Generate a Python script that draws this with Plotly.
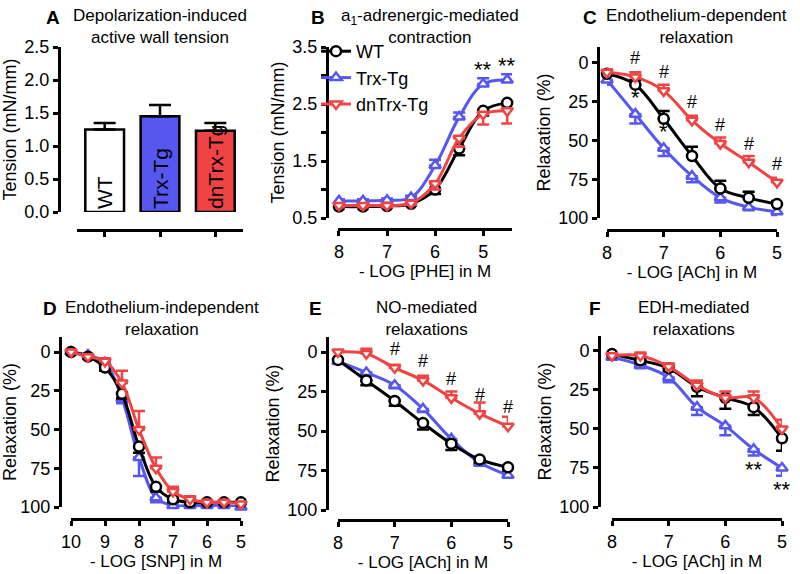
import plotly.graph_objects as go

FONT = "Liberation Sans, Arial, sans-serif"
BLACK = "#000000"
BLUE = "#5656f0"
RED = "#f04444"

W, H = 800, 574

# ---------------------------------------------------------------------------
## Data
groups = ["WT", "Trx-Tg", "dnTrx-Tg"]

a_tension = [1.25, 1.45, 1.23]
a_err = [0.10, 0.17, 0.12]

b_x = [8, 7.5, 7, 6.5, 6, 5.5, 5, 4.5]
b_wt = [0.70, 0.70, 0.71, 0.75, 1.00, 1.72, 2.38, 2.52]
b_wt_err = [0.03, 0.03, 0.03, 0.03, 0.08, 0.12, 0.08, 0.04]
b_trx = [0.80, 0.80, 0.81, 0.86, 1.42, 2.27, 2.85, 2.92]
b_trx_err = [0.03, 0.03, 0.03, 0.03, 0.10, 0.08, 0.10, 0.10]
b_dn = [0.72, 0.72, 0.72, 0.76, 1.10, 1.90, 2.32, 2.38]
b_dn_err = [0.03, 0.03, 0.03, 0.03, 0.10, 0.15, 0.18, 0.22]

ach_x = [8, 7.5, 7, 6.5, 6, 5.5, 5]

c_wt = [7, 14, 36, 60, 81, 87, 91]
c_wt_err = [2, 3, 5, 6, 5, 4, 2]
c_trx = [11, 33, 55, 73, 87, 93, 96]
c_trx_err = [3, 6, 5, 4, 3, 2, 2]
c_dn = [6, 9, 18, 37, 52, 64, 77]
c_dn_err = [2, 3, 4, 3, 4, 4, 3]

d_x = [10, 9.5, 9, 8.5, 8, 7.5, 7, 6.5, 6, 5.5, 5]
d_wt = [0, 3, 10, 27, 61, 87, 95, 97, 97, 97, 97]
d_wt_err = [1, 1, 2, 3, 4, 3, 2, 1, 1, 1, 1]
d_trx = [0, 2, 7, 30, 68, 94, 99, 99, 99, 99, 100]
d_trx_err = [1, 1, 2, 3, 12, 3, 1, 1, 1, 1, 1]
d_dn = [0, 3, 6, 20, 50, 75, 90, 95, 97, 97, 98]
d_dn_err = [1, 1, 2, 8, 12, 7, 3, 2, 1, 1, 1]

e_wt = [5, 18, 31, 45, 58, 68, 73]
e_wt_err = [2, 3, 3, 4, 4, 2, 2]
e_trx = [6, 13, 21, 36, 55, 70, 78]
e_trx_err = [1, 2, 2, 2, 3, 2, 1]
e_dn = [0, 1, 10, 18, 29, 39, 47]
e_dn_err = [1, 3, 2, 3, 4, 7, 6]

f_wt = [2, 6, 11, 23, 30, 36, 56]
f_wt_err = [1, 2, 2, 6, 7, 5, 8]
f_trx = [4, 9, 17, 36, 48, 63, 75]
f_trx_err = [1, 2, 3, 5, 6, 4, 5]
f_dn = [3, 3, 10, 22, 30, 30, 50]
f_dn_err = [1, 2, 2, 3, 4, 4, 6]


def px(x):
    return x / W


def py(y):
    return 1 - y / H


def axstyle(**kw):
    d = dict(showline=True, linewidth=3, linecolor=BLACK, ticks="outside",
             ticklen=5, tickwidth=2.5, tickcolor=BLACK, showgrid=False,
             zeroline=False, anchor="free",
             tickfont=dict(family=FONT, size=18, color=BLACK),
             title_font=dict(family=FONT, size=17, color=BLACK),
             title_standoff=0)
    d.update(kw)
    return d


fig = go.Figure()
layout = {}

# panel geometry in pixels: x-domain, x-axis y pos, y-domain, y-axis x pos
panels = {
    1: dict(xd=(77, 243), xpos=230, yd=(47, 212), ypos=59),
    2: dict(xd=(338, 512), xpos=229, yd=(47, 218), ypos=327),
    3: dict(xd=(607, 777), xpos=230, yd=(47, 218), ypos=598),
    4: dict(xd=(71, 241), xpos=519, yd=(337, 507), ypos=60),
    5: dict(xd=(338, 508), xpos=520, yd=(337, 510), ypos=327),
    6: dict(xd=(612, 782), xpos=519, yd=(336, 507), ypos=599),
}


def axes(i, xkw, ykw):
    p = panels[i]
    sfx = "" if i == 1 else str(i)
    layout["xaxis" + sfx] = axstyle(domain=[px(p["xd"][0]), px(p["xd"][1])],
                                    position=py(p["xpos"]), **xkw)
    ykw = dict(dict(title_font=dict(family=FONT, size=18, color=BLACK),
                    title_standoff=2), **ykw)
    layout["yaxis" + sfx] = axstyle(domain=[py(p["yd"][1]), py(p["yd"][0])],
                                    position=px(p["ypos"]), **ykw)


def series(i, x, y, err, color, symbol, name, up, legend=False):
    sfx = "" if i == 1 else str(i)
    zeros = [0] * len(err)
    fig.add_trace(go.Scatter(
        x=x, y=y, name=name, mode="lines+markers", showlegend=legend,
        xaxis="x" + sfx, yaxis="y" + sfx, cliponaxis=False,
        line=dict(color=color, width=3, shape="spline", smoothing=1),
        marker=dict(symbol=symbol, size=10, color="white",
                    line=dict(color=color, width=2.5)),
        error_y=dict(type="data", symmetric=False,
                     array=err if up else zeros,
                     arrayminus=zeros if up else err,
                     color=color, thickness=2.5, width=6)))


# ---------------------------------------------------------------------------
## A: bars
fig.add_trace(go.Bar(
    x=groups, y=a_tension, width=0.7, showlegend=False,
    marker=dict(color=["white", BLUE, RED], line=dict(color=BLACK, width=2.5)),
    error_y=dict(type="data", symmetric=False, array=a_err,
                 arrayminus=[0, 0, 0], color=BLACK, thickness=2.5, width=11),
    text=groups, textposition="inside", textangle=-90,
    insidetextanchor="start", constraintext="none",
    textfont=dict(family=FONT, size=21, color=BLACK)))
axes(1, dict(range=[-0.5, 2.5], showticklabels=False),
     dict(range=[0, 2.5], dtick=0.5, tickformat=".1f",
          title_text="Tension (mN/mm)"))

# ---------------------------------------------------------------------------
## B
series(2, b_x, b_wt, b_wt_err, BLACK, "circle", "WT", False, True)
series(2, b_x, b_trx, b_trx_err, BLUE, "triangle-up", "Trx-Tg", True, True)
series(2, b_x, b_dn, b_dn_err, RED, "triangle-down", "dnTrx-Tg", False, True)
axes(2, dict(range=[8.02, 4.4], tickvals=[8, 7, 6, 5],
             title_text="- LOG [PHE] in M"),
     dict(range=[0.5, 3.5], tickvals=[0.5, 1.5, 2.5, 3.5],
          minor=dict(tickvals=[1.0, 2.0, 3.0], ticks="outside", ticklen=5,
                     tickwidth=2.5, tickcolor=BLACK),
          title_text="Tension (mN/mm)"))

# ---------------------------------------------------------------------------
## C
series(3, ach_x, c_trx, c_trx_err, BLUE, "triangle-up", "Trx-Tg", True)
series(3, ach_x, c_wt, c_wt_err, BLACK, "circle", "WT", False)
series(3, ach_x, c_dn, c_dn_err, RED, "triangle-down", "dnTrx-Tg", False)
rel_y = dict(range=[100, -10.3], tickvals=[0, 25, 50, 75, 100],
             title_text="Relaxation (%)")
axes(3, dict(range=[8, 5], tickvals=[8, 7, 6, 5],
             title_text="- LOG [ACh] in M"), rel_y)

# ---------------------------------------------------------------------------
## D
series(4, d_x, d_trx, d_trx_err, BLUE, "triangle-up", "Trx-Tg", True)
series(4, d_x, d_wt, d_wt_err, BLACK, "circle", "WT", True)
series(4, d_x, d_dn, d_dn_err, RED, "triangle-down", "dnTrx-Tg", False)
axes(4, dict(range=[10, 5], tickvals=[10, 9, 8, 7, 6, 5],
             title_text="- LOG [SNP] in M"), dict(rel_y, range=[100, -9.7]))

# ---------------------------------------------------------------------------
## E
series(5, ach_x, e_trx, e_trx_err, BLUE, "triangle-up", "Trx-Tg", True)
series(5, ach_x, e_wt, e_wt_err, BLACK, "circle", "WT", True)
series(5, ach_x, e_dn, e_dn_err, RED, "triangle-down", "dnTrx-Tg", False)
axes(5, dict(range=[8, 5], tickvals=[8, 7, 6, 5],
             title_text="- LOG [ACh] in M"), dict(rel_y, range=[100, -9.5]))

# ---------------------------------------------------------------------------
## F
series(6, ach_x, f_trx, f_trx_err, BLUE, "triangle-up", "Trx-Tg", True)
series(6, ach_x, f_wt, f_wt_err, BLACK, "circle", "WT", True)
series(6, ach_x, f_dn, f_dn_err, RED, "triangle-down", "dnTrx-Tg", False)
axes(6, dict(range=[8, 5], tickvals=[8, 7, 6, 5],
             title_text="- LOG [ACh] in M"), dict(rel_y, range=[100, -9.6]))

# ---------------------------------------------------------------------------
## Annotations
ann = []


def note(text, x, y, size=17, bold=False, ref="paper", xanchor="center"):
    t = "<b>%s</b>" % text if bold else text
    d = dict(text=t, showarrow=False, xanchor=xanchor, yanchor="middle",
             font=dict(family=FONT, size=size, color=BLACK))
    if ref == "paper":
        d.update(xref="paper", yref="paper", x=px(x), y=py(y))
    else:
        d.update(xref="x" + ref, yref="y" + ref, x=x, y=y)
    ann.append(d)


titles = [
    ("A", 53, 18, "Depolarization-induced<br>active wall tension", 160, 27),
    ("B", 318, 18, "a<sub>1</sub>-adrenergic-mediated<br>contraction", 430, 27),
    ("C", 590, 18, "Endothelium-dependent<br>relaxation", 696, 27),
    ("D", 50, 308, "Endothelium-independent<br>relaxation", 162, 318),
    ("E", 315, 308, "NO-mediated<br>relaxations", 426, 318),
    ("F", 595, 308, "EDH-mediated<br>relaxations", 694, 318),
]
for letter, lx, ly, title, tx, ty in titles:
    note(letter, lx, ly, size=19, bold=True)
    note(title, tx, ty, size=17)

for i in (6, 7):
    note("**", b_x[i], b_trx[i] + b_trx_err[i] + 0.16, size=22, ref="2")
for i in range(1, 7):
    note("#", ach_x[i], c_dn[i] - 12, size=18, ref="3")
for i in (1, 2):
    note("*", ach_x[i], (c_wt[i] + c_trx[i]) / 2 - 1, size=22, ref="3")
for i in range(2, 7):
    note("#", ach_x[i], e_dn[i] - 12, size=18, ref="5")
for i in (5, 6):
    note("**", ach_x[i], f_trx[i] + f_trx_err[i] + 9, size=22, ref="6")

fig.update_layout(
    width=W, height=H,
    margin=dict(l=0, r=0, t=0, b=0, pad=0, autoexpand=False),
    plot_bgcolor="white", paper_bgcolor="white",
    font=dict(family=FONT, size=18, color=BLACK),
    annotations=ann,
    legend=dict(x=px(316), y=py(33), xanchor="left", yanchor="top",
                bgcolor="rgba(0,0,0,0)", font=dict(family=FONT, size=18),
                tracegroupgap=0, itemwidth=30),
    **layout)

# the page's default body margin would shift the figure by 8px
fig.write_html("out.html", config={"displayModeBar": False},
               post_script="document.body.style.margin='0';")
